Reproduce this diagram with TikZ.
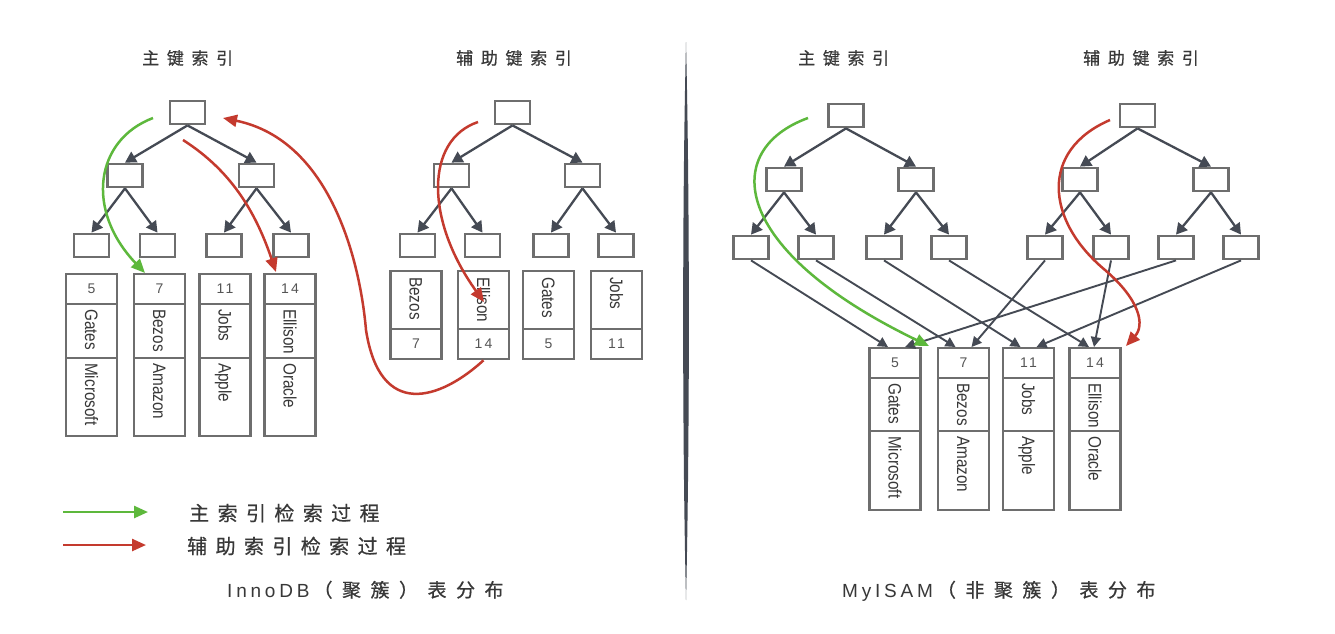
\documentclass[tikz,border=0pt]{standalone}
\usepackage{fontspec}
\setmainfont{Liberation Sans}
\newfontfamily\cjkT[LetterSpace=45,FakeBold=0.6]{Noto Sans CJK SC}
\newfontfamily\cjkL[LetterSpace=42,FakeBold=0.6]{Noto Sans CJK SC}
\newfontfamily\cjkC[LetterSpace=50,FakeBold=0.6]{Noto Sans CJK SC}
\newfontfamily\latSp[LetterSpace=20]{Liberation Sans}
\newfontfamily\numF[LetterSpace=15]{Liberation Sans}
\usetikzlibrary{arrows.meta,calc}
\definecolor{boxgray}{HTML}{6E6E6E}
\definecolor{edgedark}{HTML}{454A54}
\definecolor{ggreen}{HTML}{5DB83C}
\definecolor{rred}{HTML}{C43A2E}
\definecolor{txt}{HTML}{383838}
\definecolor{numgray}{HTML}{555555}
\begin{document}
\begin{tikzpicture}[x=1pt,y=-1pt,
  tbox/.style={draw=boxgray, line width=2.8pt, fill=white, minimum width=35pt, minimum height=23pt, inner sep=0pt},
  tedge/.style={draw=edgedark, line width=2.3pt, -{Triangle[length=11pt,width=12pt]}},
  ledge/.style={draw=edgedark, line width=1.9pt, -{Triangle[length=10pt,width=10pt]}},
  cell/.style={draw=boxgray, line width=2.3pt, minimum width=51pt, inner sep=0pt, anchor=north},
  rtext/.style={rotate=-90, anchor=west, inner sep=0pt, font=\fontsize{18}{18}\selectfont, text=txt, text height=13pt, text depth=0pt},
  ntext/.style={font=\numF\fontsize{14}{14}\selectfont, text=numgray, inner sep=0pt},
  gpath/.style={draw=ggreen, line width=2.5pt, -{Triangle[length=14pt,width=12pt]}},
  rpath/.style={draw=rred, line width=2.5pt, -{Triangle[length=14pt,width=12pt]}},
  title/.style={font=\cjkT\fontsize{17}{17}\selectfont, text=txt, inner sep=0pt, anchor=west},
  legtext/.style={font=\cjkL\fontsize{20}{20}\selectfont, text=txt, inner sep=0pt, anchor=west},
  captext/.style={font=\fontsize{19}{19}\selectfont, text=txt, inner sep=0pt, anchor=base west}
]
\useasboundingbox (0,0) rectangle (1335,633);
\fill[white] (0,0) rectangle (1335,633);

% divider
\fill[edgedark] (686,42) .. controls (689.8,200) and (689.8,440) .. (686,600)
  .. controls (682.2,440) and (682.2,200) .. (686,42) -- cycle;

% titles
\node[title] (tA1) at (142,58) {主键索引};
\node[title] (tA2) at (456,58) {辅助键索引};
\node[title] (tB1) at (798,58) {主键索引};
\node[title] (tB2) at (1083,58) {辅助键索引};

% ---------- InnoDB primary tree
\node[tbox] (pA0) at (187.5,112.5) {};
\node[tbox] (pA1) at (125,175.5) {};
\node[tbox] (pA2) at (256.5,175.5) {};
\node[tbox] (pA3) at (91.5,245.5) {};
\node[tbox] (pA4) at (157.5,245.5) {};
\node[tbox] (pA5) at (224,245.5) {};
\node[tbox] (pA6) at (291,245.5) {};
\draw[tedge] (pA0.south) -- (pA1.north);
\draw[tedge] (pA0.south) -- (pA2.north);
\draw[tedge] (pA1.south) -- (pA3.north);
\draw[tedge] (pA1.south) -- (pA4.north);
\draw[tedge] (pA2.south) -- (pA5.north);
\draw[tedge] (pA2.south) -- (pA6.north);

\foreach \i/\x/\n/\p/\c in {1/91.5/5/Gates/Microsoft,2/159.5/7/Bezos/Amazon,3/225/11/Jobs/Apple,4/290/14/Ellison/Oracle}{
  \node[cell, minimum height=30pt] (LRa\i) at (\x,273) {};
  \node[cell, minimum height=54pt] (LRb\i) at (\x,303) {};
  \node[cell, minimum height=78pt] (LRc\i) at (\x,357) {};
  \node[ntext] (LRn\i) at (LRa\i.center) {\n};
  \node[rtext] (LRp\i) at ($(LRb\i.north)+(0,6)$) {\scalebox{0.85}[1]{\p}};
  \node[rtext] (LRq\i) at ($(LRc\i.north)+(0,6)$) {\scalebox{0.85}[1]{\c}};
}

% ---------- InnoDB secondary tree
\node[tbox] (sA0) at (512.5,112.5) {};
\node[tbox] (sA1) at (451.5,175.5) {};
\node[tbox] (sA2) at (582.5,175.5) {};
\node[tbox] (sA3) at (417.5,245.5) {};
\node[tbox] (sA4) at (482.5,245.5) {};
\node[tbox] (sA5) at (551,245.5) {};
\node[tbox] (sA6) at (616,245.5) {};
\draw[tedge] (sA0.south) -- (sA1.north);
\draw[tedge] (sA0.south) -- (sA2.north);
\draw[tedge] (sA1.south) -- (sA3.north);
\draw[tedge] (sA1.south) -- (sA4.north);
\draw[tedge] (sA2.south) -- (sA5.north);
\draw[tedge] (sA2.south) -- (sA6.north);

\foreach \i/\x/\n/\p in {1/416/7/Bezos,2/483.5/14/Ellison,3/548.5/5/Gates,4/616.5/11/Jobs}{
  \node[cell, minimum height=58pt] (SRa\i) at (\x,270) {};
  \node[cell, minimum height=30pt] (SRb\i) at (\x,328) {};
  \node[ntext] (SRn\i) at (SRb\i.center) {\n};
  \node[rtext] (SRp\i) at ($(SRa\i.north)+(0,7)$) {\scalebox{0.85}[1]{\p}};
}

% ---------- MyISAM primary tree
\node[tbox] (pB0) at (846,115.5) {};
\node[tbox] (pB1) at (784,179.5) {};
\node[tbox] (pB2) at (916,179.5) {};
\node[tbox] (pB3) at (751,247.5) {};
\node[tbox] (pB4) at (816,247.5) {};
\node[tbox] (pB5) at (884,247.5) {};
\node[tbox] (pB6) at (949,247.5) {};
\draw[tedge] (pB0.south) -- (pB1.north);
\draw[tedge] (pB0.south) -- (pB2.north);
\draw[tedge] (pB1.south) -- (pB3.north);
\draw[tedge] (pB1.south) -- (pB4.north);
\draw[tedge] (pB2.south) -- (pB5.north);
\draw[tedge] (pB2.south) -- (pB6.north);

% ---------- MyISAM secondary tree
\node[tbox] (sB0) at (1137.5,115.5) {};
\node[tbox] (sB1) at (1080,179.5) {};
\node[tbox] (sB2) at (1211,179.5) {};
\node[tbox] (sB3) at (1045,247.5) {};
\node[tbox] (sB4) at (1111,247.5) {};
\node[tbox] (sB5) at (1176,247.5) {};
\node[tbox] (sB6) at (1241,247.5) {};
\draw[tedge] (sB0.south) -- (sB1.north);
\draw[tedge] (sB0.south) -- (sB2.north);
\draw[tedge] (sB1.south) -- (sB3.north);
\draw[tedge] (sB1.south) -- (sB4.north);
\draw[tedge] (sB2.south) -- (sB5.north);
\draw[tedge] (sB2.south) -- (sB6.north);

\foreach \i/\x/\n/\p/\c in {1/895/5/Gates/Microsoft,2/963.5/7/Bezos/Amazon,3/1028.5/11/Jobs/Apple,4/1095/14/Ellison/Oracle}{
  \node[cell, minimum height=30pt] (RRa\i) at (\x,347) {};
  \node[cell, minimum height=53pt] (RRb\i) at (\x,377) {};
  \node[cell, minimum height=79pt] (RRc\i) at (\x,430) {};
  \node[ntext] (RRn\i) at (RRa\i.center) {\n};
  \node[rtext] (RRp\i) at ($(RRb\i.north)+(0,6)$) {\scalebox{0.85}[1]{\p}};
  \node[rtext] (RRq\i) at ($(RRc\i.north)+(0,6)$) {\scalebox{0.85}[1]{\c}};
}

% leaf -> record pointers (MyISAM)
\draw[ledge] (pB3.south) -- ($(RRa1.north)+(-7,0)$);
\draw[ledge] (pB4.south) -- ($(RRa2.north)+(-8,0)$);
\draw[ledge] (pB5.south) -- ($(RRa3.north)+(-8,0)$);
\draw[ledge] (pB6.south) -- ($(RRa4.north)+(-6,0)$);
\draw[ledge] (sB3.south) -- ($(RRa2.north)+(8,0)$);
\draw[ledge] (sB4.south) -- ($(RRa4.north)+(-1,0)$);
\draw[ledge] (sB5.south) -- ($(RRa1.north)+(10,0)$);
\draw[ledge] (sB6.south) -- ($(RRa3.north)+(8,0)$);

% ---------- search paths
\coordinate (gA0) at (153,118);
\coordinate (gA1) at (145,273);
\draw[gpath] (gA0) .. controls (95,140) and (85,210) .. (gA1);

\coordinate (rA0) at (183,140);
\coordinate (rA1) at (276,272);
\draw[rpath] (rA0) .. controls (230,170) and (255,210) .. (rA1);

\coordinate (rB0) at (223,118);
\draw[rpath] (SRb2.south) .. controls (440,400) and (380,420) .. (366,330)
  .. controls (360,260) and (330,140) .. (rB0);

\coordinate (rC0) at (478,122);
\coordinate (rC1) at (484,302);
\draw[rpath] (rC0) .. controls (425,140) and (425,220) .. (rC1);

\coordinate (gB0) at (808,118);
\coordinate (gB1) at (929,346);
\draw[gpath] (gB0) .. controls (720,150) and (730,250) .. (gB1);

\coordinate (rD0) at (1110,120);
\coordinate (rD1) at (1126,346);
\draw[rpath] (rD0) .. controls (1040,150) and (1045,220) .. (1105,270)
  .. controls (1140,300) and (1145,325) .. (rD1);

% ---------- legend
\coordinate (lg0) at (63,512);
\coordinate (lg1) at (148,512);
\draw[gpath] (lg0) -- (lg1);
\node[legtext] (lgt) at (189,513) {主索引检索过程};
\coordinate (lr0) at (63,545);
\coordinate (lr1) at (146,545);
\draw[rpath] (lr0) -- (lr1);
\node[legtext] (lrt) at (187,546) {辅助索引检索过程};

% ---------- captions
\node[captext] (capA) at (227,597) {{\latSp InnoDB}\hspace{4pt}{\cjkC （聚簇）表分布}};
\node[captext] (capB) at (842,597) {{\latSp MyISAM}\hspace{4pt}{\cjkC （非聚簇）表分布}};
\end{tikzpicture}
\end{document}
